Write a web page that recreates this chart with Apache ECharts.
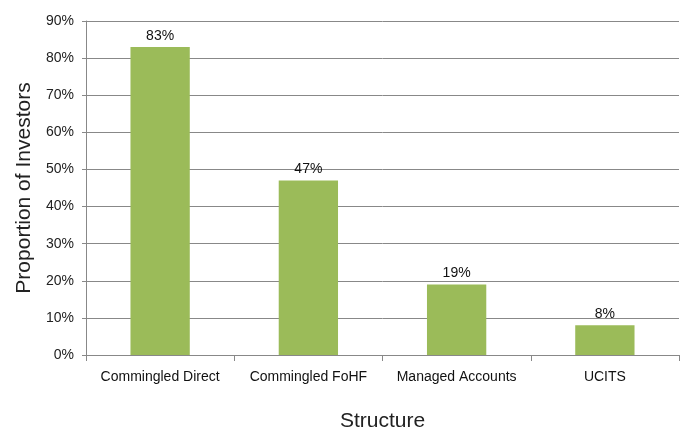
<!DOCTYPE html>
<html><head><meta charset="utf-8">
<script src="https://cdn.jsdelivr.net/npm/echarts@6/dist/echarts.min.js"></script>
<style>html,body{margin:0;padding:0;background:#fff}#c{width:686px;height:430px}</style>
</head><body><div id="c"></div>
<script>
const categories = ['Commingled Direct', 'Commingled FoHF', 'Managed Accounts', 'UCITS'];
const values = [83, 47, 19, 8];
const yTicks = [0, 10, 20, 30, 40, 50, 60, 70, 80, 90];

const chart = echarts.init(document.getElementById('c'));
const font = 'Liberation Sans, Arial, sans-serif';
chart.setOption({
  animation: false,
  grid: {left: 86, right: 7, top: 21, bottom: 75, containLabel: false, outerBoundsMode: 'none'},
  xAxis: {
    type: 'category', data: categories,
    name: 'Structure', nameLocation: 'middle', nameGap: 56,
    nameTextStyle: {fontFamily: font, fontSize: 21, color: '#222'},
    axisLine: {lineStyle: {color: '#888', width: 1}},
    axisTick: {show: true, interval: 0, length: 6, lineStyle: {color: '#888'}},
    axisLabel: {interval: 0, hideOverlap: false, fontFamily: font, fontSize: 14, color: '#111', margin: 15}
  },
  yAxis: {
    type: 'value', min: yTicks[0], max: yTicks[yTicks.length - 1], interval: 10,
    name: 'Proportion of Investors', nameLocation: 'middle', nameGap: 49,
    nameTextStyle: {fontFamily: font, fontSize: 21, color: '#222'},
    axisLine: {show: true, lineStyle: {color: '#888', width: 1}},
    axisTick: {show: true, length: 4, inside: false, lineStyle: {color: '#888'}},
    axisLabel: {fontFamily: font, fontSize: 14, color: '#222', margin: 12, formatter: v => v + '%'},
    splitLine: {show: true, lineStyle: {color: '#888', width: 1}}
  },
  series: [{
    type: 'bar', data: values, barWidth: '40%',
    itemStyle: {color: '#9BBB59'},
    label: {show: true, position: 'top', distance: 4, fontFamily: font, fontSize: 14, color: '#111', formatter: p => p.value + '%'}
  }]
});
</script></body></html>
